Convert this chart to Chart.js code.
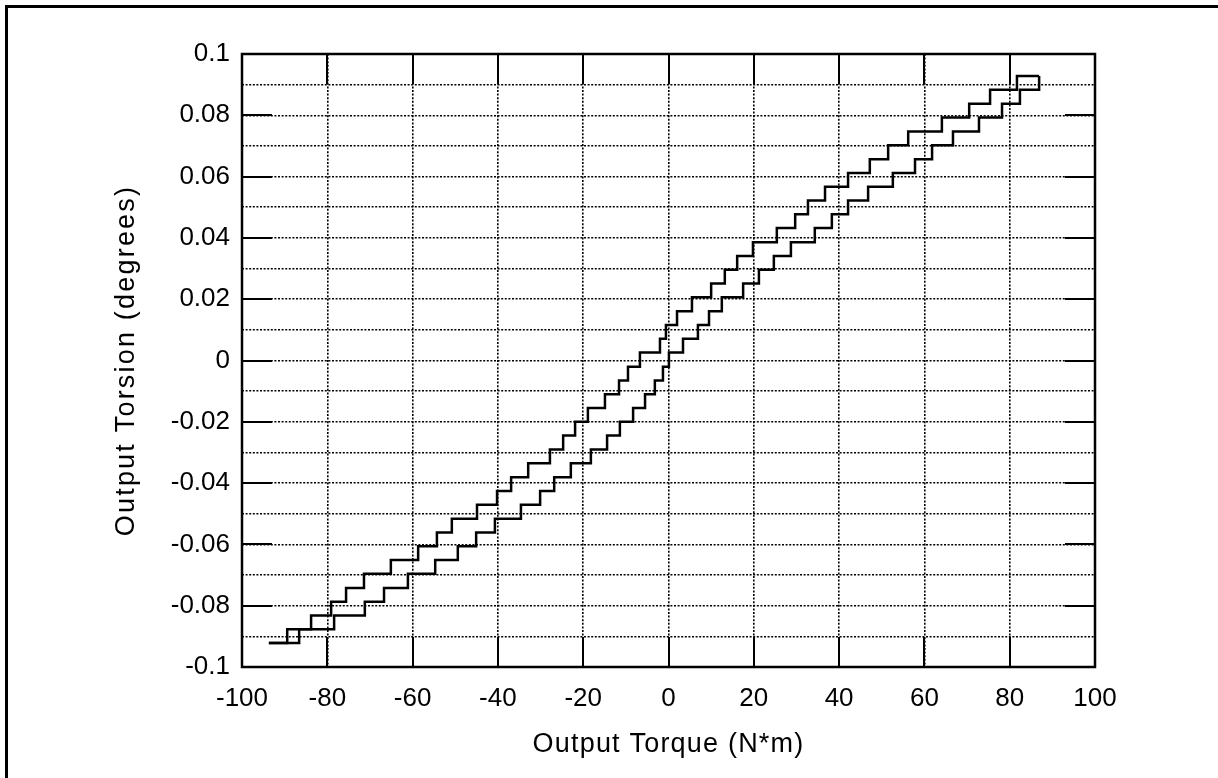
<!DOCTYPE html>
<html>
<head>
<meta charset="utf-8">
<title>Output Torsion vs Output Torque</title>
<script src="https://cdn.jsdelivr.net/npm/chart.js@4.4.1/dist/chart.umd.min.js"></script>
<style>
  html, body { margin: 0; padding: 0; background: #fff; overflow: hidden; }
  #wrap { position: relative; width: 1218px; height: 778px; overflow: hidden; }
  #frame { position: absolute; left: 5px; top: 5px; width: 1240px; height: 800px;
           border-left: 3px solid #000; border-top: 3px solid #000; pointer-events: none; }
</style>
</head>
<body>
<div id="wrap">
  <canvas id="torsion-chart" width="1218" height="778"></canvas>
  <div id="frame"></div>
</div>
<script>
// loading branch: torque where each step up happens (N*m) and the level reached (degrees)
const loadTorque = [-93.7, -86.6, -78.4, -71.2, -66.7, -61.1, -54.7, -49.4, -45.1, -40.7,
  -34.6, -30.1, -26.8, -22.9, -18.2, -14.4, -11.4, -8.3, -5.5, -3.2, -1.3, 0.1, 3.4, 6.9,
  9.5, 12.5, 17.5, 21.2, 24.7, 28.7, 34.3, 38.3, 42.1, 46.8, 52.6, 57.8, 61.8, 66.7, 72.8,
  78.2, 82.4, 86.9];
const loadTorsion = [-0.0922, -0.0877, -0.0832, -0.0787, -0.0742, -0.0696, -0.0651, -0.0606,
  -0.0561, -0.0516, -0.0471, -0.0426, -0.0381, -0.0335, -0.0290, -0.0245, -0.0200, -0.0155,
  -0.0110, -0.0065, -0.0020, 0.0026, 0.0071, 0.0116, 0.0161, 0.0206, 0.0251, 0.0296, 0.0341,
  0.0386, 0.0432, 0.0477, 0.0522, 0.0567, 0.0612, 0.0657, 0.0702, 0.0747, 0.0793, 0.0838,
  0.0883, 0.0928];

// unloading branch: torque where each step down happens and the level reached
const unloadTorque = [86.9, 81.7, 75.4, 70.5, 64.1, 56.2, 51.5, 47.2, 42.1, 36.7, 32.7, 29.7,
  25.4, 19.8, 16.1, 13.2, 10.0, 5.5, 2.0, -0.6, -2.0, -6.7, -9.5, -11.6, -14.9, -18.9, -21.9,
  -24.7, -27.8, -32.9, -36.9, -40.2, -44.9, -50.8, -54.3, -58.7, -65.1, -71.4, -75.6, -79.1,
  -83.8, -89.4, -93.7];
const unloadTorsion = [0.0928, 0.0883, 0.0838, 0.0793, 0.0747, 0.0702, 0.0657, 0.0612, 0.0567,
  0.0522, 0.0477, 0.0432, 0.0386, 0.0341, 0.0296, 0.0251, 0.0206, 0.0161, 0.0116, 0.0071,
  0.0026, -0.0020, -0.0065, -0.0110, -0.0155, -0.0200, -0.0245, -0.0290, -0.0335, -0.0381,
  -0.0426, -0.0471, -0.0516, -0.0561, -0.0606, -0.0651, -0.0696, -0.0742, -0.0787, -0.0832,
  -0.0877, -0.0922, -0.0922];

// axis ticks and titles
const torqueTicks = [-100, -80, -60, -40, -20, 0, 20, 40, 60, 80, 100];
const torsionLabels = ["0.1", "0.08", "0.06", "0.04", "0.02", "0", "-0.02", "-0.04", "-0.06", "-0.08", "-0.1"];
const xTitle = "Output Torque (N*m)";
const yTitle = "Output Torsion (degrees)";

const FONT = '"Liberation Sans", Arial, Helvetica, sans-serif';
const toPoints = (xs, ys) => xs.map((x, i) => ({ x: x, y: ys[i] }));

Chart.defaults.font.family = FONT;
Chart.defaults.color = "#000";

// solid frame, short inward tick marks at labelled values, spaced-out axis titles
const frameTicks = {
  id: "frameTicks",
  beforeDatasetsDraw(chart) {
    const { ctx, chartArea: a, scales: { x, y } } = chart;
    const len = 30;
    ctx.save();
    ctx.strokeStyle = "#000";
    ctx.lineWidth = 2;
    ctx.setLineDash([]);
    ctx.beginPath();
    torsionLabels.forEach((lbl) => {
      const py = Math.round(y.getPixelForValue(parseFloat(lbl)));
      ctx.moveTo(a.left, py); ctx.lineTo(a.left + len, py);
      ctx.moveTo(a.right - len, py); ctx.lineTo(a.right, py);
    });
    torqueTicks.forEach((v) => {
      const px = Math.round(x.getPixelForValue(v));
      ctx.moveTo(px, a.top); ctx.lineTo(px, a.top + len);
      ctx.moveTo(px, a.bottom - len); ctx.lineTo(px, a.bottom);
    });
    ctx.stroke();
    ctx.restore();
  },
  afterDatasetsDraw(chart) {
    const { ctx, chartArea: a } = chart;
    ctx.save();
    ctx.strokeStyle = "#000";
    ctx.lineWidth = 2.5;
    ctx.setLineDash([]);
    ctx.strokeRect(a.left, a.top, a.right - a.left, a.bottom - a.top);

    ctx.fillStyle = "#000";
    ctx.textAlign = "center";
    ctx.textBaseline = "middle";
    ctx.font = "27px " + FONT;
    ctx.letterSpacing = "1.2px";
    ctx.fillText(xTitle, (a.left + a.right) / 2, 745);
    ctx.translate(127, (a.top + a.bottom) / 2);
    ctx.rotate(-Math.PI / 2);
    ctx.letterSpacing = "2.2px";
    ctx.fillText(yTitle, 0, 0);
    ctx.restore();
  }
};

const lineStyle = {
  showLine: true,
  stepped: true,
  borderColor: "#000",
  borderWidth: 2.5,
  pointRadius: 0,
  fill: false
};

const ctx = document.getElementById("torsion-chart").getContext("2d");
new Chart(ctx, {
  type: "scatter",
  data: {
    datasets: [
      Object.assign({ label: "Loading", data: toPoints(loadTorque, loadTorsion) }, lineStyle),
      Object.assign({ label: "Unloading", data: toPoints(unloadTorque, unloadTorsion) }, lineStyle)
    ]
  },
  options: {
    responsive: false,
    animation: false,
    devicePixelRatio: 1,
    layout: { padding: { left: 0, top: 54, right: 123, bottom: 0 } },
    plugins: { legend: { display: false }, tooltip: { enabled: false } },
    scales: {
      x: {
        type: "linear",
        min: -100,
        max: 100,
        afterBuildTicks: (scale) => { scale.ticks = torqueTicks.map((v) => ({ value: v })); },
        afterFit: (scale) => { scale.height = 111; },
        ticks: { autoSkip: false, maxRotation: 0, padding: 16, font: { size: 26 },
                 callback: (v) => String(v) },
        grid: { color: "#000", lineWidth: 1.6, drawTicks: false },
        border: { display: false, dash: [2, 1.6] }
      },
      y: {
        type: "linear",
        min: -0.1,
        max: 0.1,
        afterFit: (scale) => { scale.width = 242; },
        ticks: {
          stepSize: 0.01,
          autoSkip: false,
          padding: 12,
          font: { size: 26 },
          callback: (v) => {
            const s = String(parseFloat(v.toFixed(2)));
            return torsionLabels.includes(s) ? s : "";
          }
        },
        grid: { color: "#000", lineWidth: 1.6, drawTicks: false },
        border: { display: false, dash: [2, 1.6] }
      }
    }
  },
  plugins: [frameTicks]
});
</script>
</body>
</html>
